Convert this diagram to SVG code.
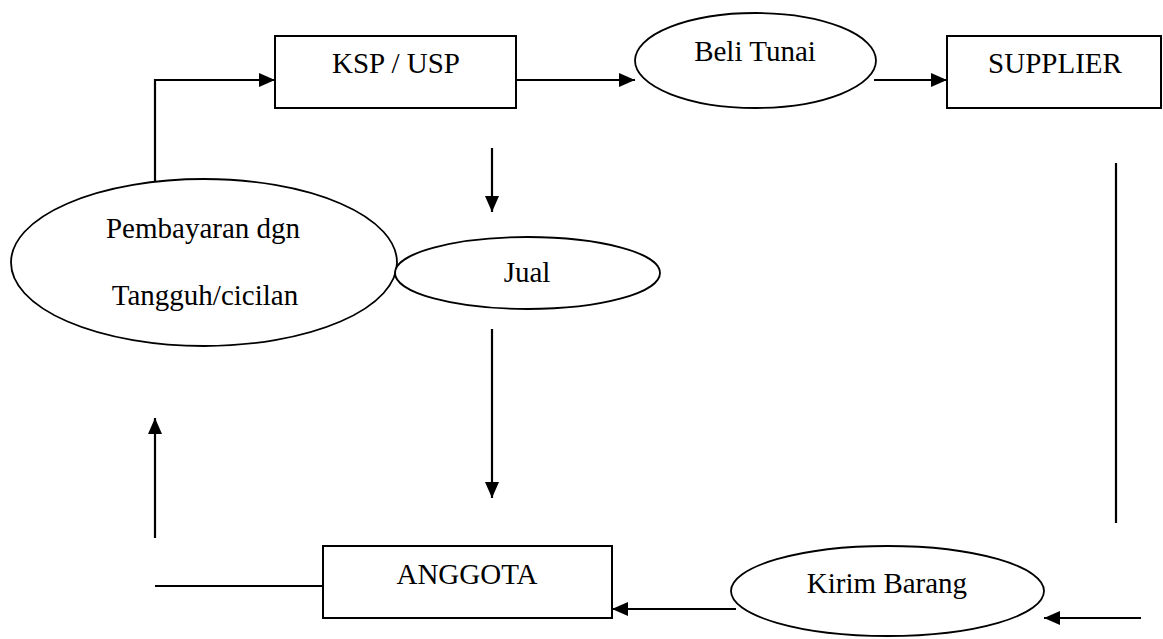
<svg xmlns="http://www.w3.org/2000/svg" width="1163" height="639" viewBox="0 0 1163 639">
<style>
  .box{fill:#fff;stroke:#000;stroke-width:2}
  .ell{fill:#fff;stroke:#000;stroke-width:1.8}
  .lbl{font-family:'Liberation Serif','Times New Roman',Times,Tinos,'DejaVu Serif',serif;font-size:29px;fill:#000;text-anchor:middle}
  .ln{fill:none;stroke:#000;stroke-width:2.2}
</style>
<defs>
  <marker id="ah" markerUnits="userSpaceOnUse" markerWidth="18" markerHeight="16" refX="16" refY="7" orient="auto">
    <path d="M0,0 L16,7 L0,14 Z" fill="#000"/>
  </marker>
</defs>
<rect width="1163" height="639" fill="#fff"/>
<g id="connectors">
  <path class="ln" d="M155,182 V80 H275" marker-end="url(#ah)"/>
  <path class="ln" d="M516,80 H635" marker-end="url(#ah)"/>
  <path class="ln" d="M874,80 H947" marker-end="url(#ah)"/>
  <path class="ln" d="M492,148 V212" marker-end="url(#ah)"/>
  <path class="ln" d="M492,329 V498" marker-end="url(#ah)"/>
  <path class="ln" d="M1116,163 V523"/>
  <path class="ln" d="M1141,618 H1044" marker-end="url(#ah)"/>
  <path class="ln" d="M736,609 H612" marker-end="url(#ah)"/>
  <path class="ln" d="M323,586 H155"/>
  <path class="ln" d="M155,538 V418" marker-end="url(#ah)"/>
</g>
<g id="ksp">
  <rect class="box" x="275" y="36" width="241" height="72"/>
  <text class="lbl" x="396" y="73" font-family="Liberation Serif, serif">KSP / USP</text>
</g>
<g id="beli">
  <ellipse class="ell" cx="755.5" cy="60.5" rx="120.5" ry="47.5"/>
  <text class="lbl" x="755" y="61" font-family="Liberation Serif, serif">Beli Tunai</text>
</g>
<g id="supplier">
  <rect class="box" x="947" y="36" width="214" height="72"/>
  <text class="lbl" x="1055" y="73" font-family="Liberation Serif, serif">SUPPLIER</text>
</g>
<g id="pembayaran">
  <ellipse class="ell" cx="204" cy="262.5" rx="193" ry="83.5"/>
  <text class="lbl" x="203" y="238" font-family="Liberation Serif, serif">Pembayaran dgn</text>
  <text class="lbl" x="205" y="305" font-family="Liberation Serif, serif">Tangguh/cicilan</text>
</g>
<g id="jual">
  <ellipse class="ell" cx="527.5" cy="273" rx="132.5" ry="36"/>
  <text class="lbl" x="527" y="282" font-family="Liberation Serif, serif">Jual</text>
</g>
<g id="anggota">
  <rect class="box" x="323" y="546" width="289" height="72"/>
  <text class="lbl" x="467" y="584" font-family="Liberation Serif, serif">ANGGOTA</text>
</g>
<g id="kirim">
  <ellipse class="ell" cx="887.5" cy="591" rx="156.5" ry="45"/>
  <text class="lbl" x="887" y="593" font-family="Liberation Serif, serif">Kirim Barang</text>
</g>
</svg>
